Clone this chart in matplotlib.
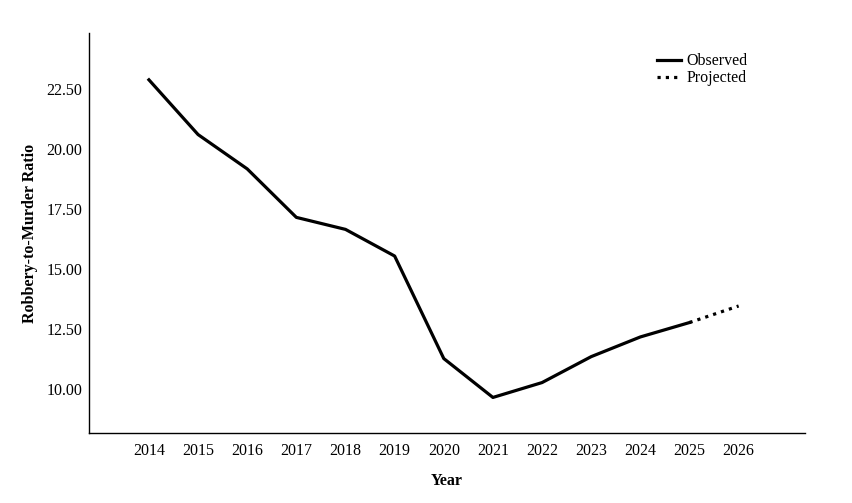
import matplotlib
matplotlib.use("Agg")
import matplotlib.pyplot as plt

years = [2014, 2015, 2016, 2017, 2018, 2019, 2020, 2021, 2022, 2023, 2024, 2025]
ratio = [22.88, 20.6, 19.17, 17.15, 16.65, 15.54, 11.27, 9.65, 10.27, 11.35, 12.17, 12.77]
proj_years = [2025, 2026]
proj_ratio = [12.77, 13.46]
tick_years = list(range(2014, 2027))
y_ticks = [10.0, 12.5, 15.0, 17.5, 20.0, 22.5]

plt.rcParams["font.family"] = ["Liberation Serif", "DejaVu Serif"]

fig = plt.figure(figsize=(8.53, 5.03), dpi=100)
ax = fig.add_axes([0.1043, 0.1392, 0.8394, 0.7952])

ax.plot(years, ratio, color="black", linewidth=2.3, label="Observed")
ax.plot(proj_years, proj_ratio, color="black", linewidth=2.3, linestyle=(0, (1, 1.6)), label="Projected")

ax.set_xlim(2012.78, 2027.35)
ax.set_ylim(8.17, 24.83)
ax.set_xticks(tick_years)
ax.set_yticks(y_ticks)
ax.set_yticklabels([f"{v:.2f}" for v in y_ticks])
ax.tick_params(length=0, labelsize=11.5)
ax.tick_params(axis="x", pad=7)
ax.tick_params(axis="y", pad=5)

for side in ["top", "right"]:
    ax.spines[side].set_visible(False)
for side in ["left", "bottom"]:
    ax.spines[side].set_linewidth(1.0)

ax.set_xlabel("Year", fontsize=11.5, fontweight="bold", labelpad=10)
ax.set_ylabel("Robbery-to-Murder Ratio", fontsize=11.5, fontweight="bold", labelpad=6)

ax.legend(loc="upper right", bbox_to_anchor=(0.94, 0.985), frameon=False, fontsize=11.5,
          handlelength=1.5, handletextpad=0.35, labelspacing=0.05)

fig.savefig("out.png", dpi=100)
